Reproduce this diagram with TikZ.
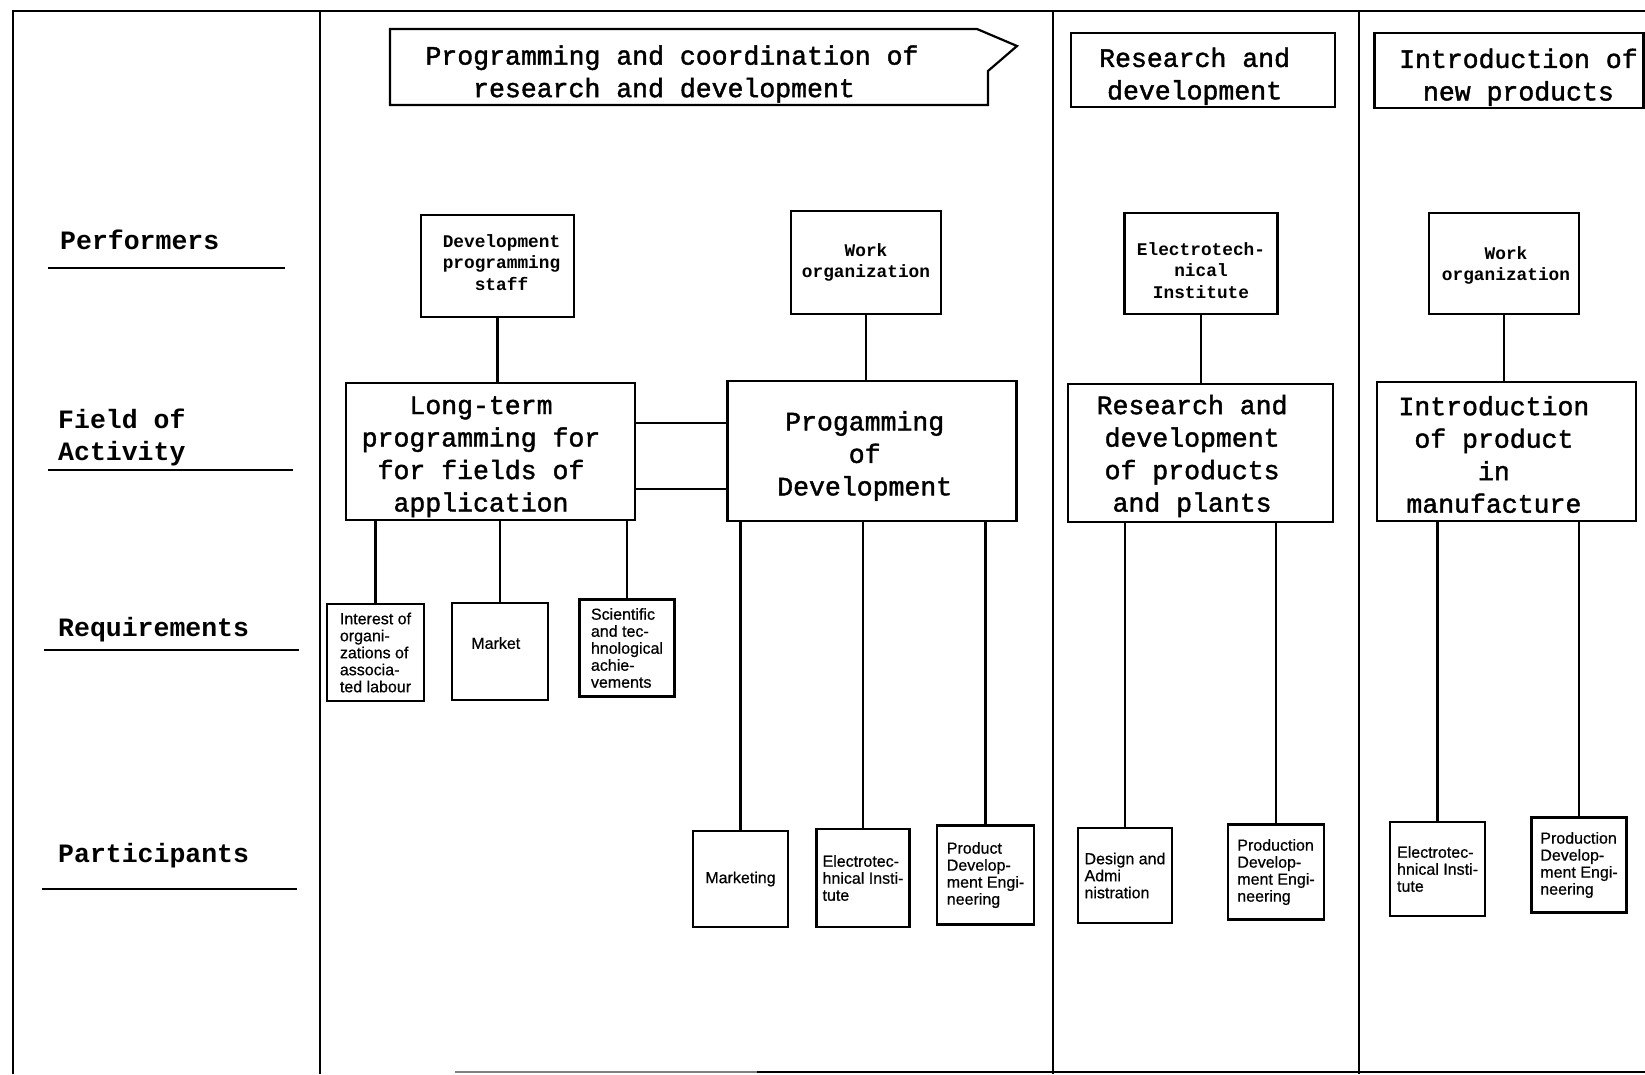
\documentclass[tikz,border=0pt]{standalone}
\usepackage{fontspec}
\setmainfont{Liberation Sans}
\newfontfamily\typewriter{Liberation Mono}
\newfontfamily\typewritermid[FakeBold=1.6]{Liberation Mono}
\newfontfamily\labelsans[FakeBold=0.6]{Liberation Sans}
\begin{document}
\begin{tikzpicture}[x=1pt,y=-1pt,
  rule/.style={line width=2pt},
  hbox/.style={draw, line width=2.2pt},
  box/.style={draw, line width=2.6pt, inner sep=0pt},
  link/.style={line width=2.4pt},
  bigtw/.style={font=\typewritermid\fontsize{26.5}{32.5}\selectfont, align=center},
  smalltw/.style={font=\typewriter\bfseries\fontsize{17.8}{21.5}\selectfont, align=center},
  rowname/.style={font=\typewriter\bfseries\fontsize{26.5}{32.5}\selectfont, align=left, inner sep=0pt},
  note/.style={font=\labelsans\fontsize{16}{17}\selectfont, align=left, inner sep=0pt},
]
\useasboundingbox (0,0) rectangle (1645,1074);

% outer frame and column dividers
\draw[rule] (12.6,1074) -- (12.6,10.5) -- (1645,10.5);
\draw[rule] (320,10.5) -- (320,1074);
\draw[rule] (1053,10.5) -- (1053,1074);
\draw[rule] (1359,10.5) -- (1359,1074);
\draw[line width=1.6pt, gray] (455,1072) -- (757,1072);
\draw[line width=1.6pt] (757,1072) -- (1645,1072);

% row names
\node[rowname, anchor=base west] (rowPerf) at (60,249) {Performers};
\draw[rule] (48,267.5) -- (285,267.5);
\node[rowname, anchor=west] (rowField) at (58,437.5) {Field of\\Activity};
\draw[rule] (48,470) -- (293,470);
\node[rowname, anchor=base west] (rowReq) at (58,636) {Requirements};
\draw[rule] (44,650) -- (299,650);
\node[rowname, anchor=base west] (rowPart) at (58,862) {Participants};
\draw[rule] (42,888.5) -- (297,888.5);

% phase headings
\node[bigtw] (H1) at (672,74) {Programming and coordination of\\research and development\hspace*{16pt}};
\draw[hbox] (390,29) -- (977,29) -- (1017,46) -- (988,71) -- (988,105) -- (390,105) -- cycle;
\node[hbox, minimum width=264, minimum height=74.5, inner sep=0pt,
  label={[bigtw, name=H2text, xshift=-8.4pt, yshift=-6.3pt]center:{Research and\\development}}] (H2) at (1203,70) {};
\node[hbox, minimum width=269, minimum height=74.5, inner sep=0pt,
  label={[bigtw, name=H3text, xshift=9.4pt, yshift=-6.8pt]center:{Introduction of\\new products}}] (H3) at (1509,70.5) {};

% performers
\node[box, minimum width=153, minimum height=102,
  label={[smalltw, name=P1text, xshift=4pt, yshift=3.5pt]center:{Development\\programming\\staff}}] (P1) at (497.5,266) {};
\node[box, smalltw, minimum width=150, minimum height=103] (P2) at (866,262.5) {Work\\organization};
\node[box, minimum width=153.5, minimum height=101,
  label={[smalltw, name=P3text, yshift=-7pt]center:{Electrotech-\\nical\\Institute}}] (P3) at (1201,263.5) {};
\node[box, minimum width=150, minimum height=101,
  label={[smalltw, name=P4text, xshift=2pt, yshift=-2pt]center:{Work\\organization}}] (P4) at (1504,263.5) {};

% fields of activity
\node[box, minimum width=289, minimum height=137,
  label={[bigtw, name=F1text, xshift=-9.5pt, yshift=-5.2pt]center:{Long-term\\programming for\\for fields of\\application}}] (F1) at (490.5,451.5) {};
\node[box, minimum width=288.5, minimum height=140,
  label={[bigtw, name=F2text, xshift=-7.3pt, yshift=-5pt]center:{Progamming\\of\\Development}}] (F2) at (872,451) {};
\node[box, minimum width=265, minimum height=138,
  label={[bigtw, name=F3text, xshift=-8.4pt, yshift=-3pt]center:{Research and\\development\\of products\\and plants}}] (F3) at (1200.5,453) {};
\node[box, minimum width=259, minimum height=139,
  label={[bigtw, name=F4text, xshift=-12.6pt, yshift=-3pt]center:{Introduction\\of product\\in\\manufacture}}] (F4) at (1506.5,451.5) {};

% requirements
\node[box, note, minimum width=97, minimum height=97] (R1) at (375.5,652.5) {Interest of\\organi-\\zations of\\associa-\\ted labour};
\node[box, minimum width=96, minimum height=97,
  label={[note, name=R2text, xshift=-4.2pt, yshift=8.4pt]center:Market}] (R2) at (500,651.5) {};
\node[box, note, minimum width=95.5, minimum height=97.5] (R3) at (627,648) {Scientific\\and tec-\\hnological\\achie-\\vements};

% participants
\node[box, note, minimum width=95, minimum height=96] (Q1) at (740.5,879) {Marketing};
\node[box, note, minimum width=93.5, minimum height=98] (Q2) at (863,878) {Electrotec-\\hnical Insti-\\tute};
\node[box, note, minimum width=97, minimum height=99.5] (Q3) at (985.5,875) {Product\\Develop-\\ment Engi-\\neering};
\node[box, note, minimum width=94, minimum height=95] (Q4) at (1125,875.5) {Design and\\Admi\\nistration};
\node[box, note, minimum width=96, minimum height=94.5] (Q5) at (1276,872) {Production\\Develop-\\ment Engi-\\neering};
\node[box, note, minimum width=95, minimum height=94] (Q6) at (1437.5,869) {Electrotec-\\hnical Insti-\\tute};
\node[box, note, minimum width=94.5, minimum height=94.5] (Q7) at (1579,865) {Production\\Develop-\\ment Engi-\\neering};

% performer -> field
\foreach \p/\f in {P1/F1, P2/F2, P3/F3, P4/F4}
  \draw[link] (\p.south) -- (\p.south |- \f.north);

% the two links between the first two fields
\draw[link] ([yshift=28.5pt]F1.east) -- ([yshift=28.5pt]F1.east -| F2.west);
\draw[link] ([yshift=-37.5pt]F1.east) -- ([yshift=-37.5pt]F1.east -| F2.west);

% field -> requirements
\foreach \r in {R1, R2, R3}
  \draw[link] (\r.north) -- (\r.north |- F1.south);

% field -> participants
\foreach \q/\f in {Q1/F2, Q2/F2, Q3/F2, Q4/F3, Q5/F3, Q6/F4, Q7/F4}
  \draw[link] (\q.north) -- (\q.north |- \f.south);
\end{tikzpicture}
\end{document}
